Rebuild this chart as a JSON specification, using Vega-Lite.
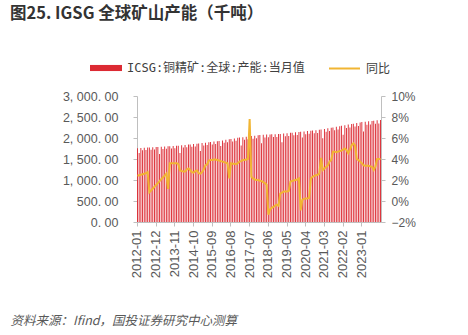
{
  "$schema": "https://vega.github.io/schema/vega-lite/v6.json",
  "width": 244,
  "height": 126,
  "autosize": "none",
  "padding": {"left": 137, "top": 96, "right": 87, "bottom": 113},
  "background": "white",
  "config": {"view": {"stroke": null}, "font": "Noto Sans CJK SC"},
  "title": {
    "text": "图25. IGSG 全球矿山产能（千吨）",
    "anchor": "start",
    "frame": "group",
    "dx": -127,
    "offset": 30,
    "fontSize": 16.5,
    "fontWeight": "bold",
    "color": "#333333",
    "font": "Noto Sans CJK SC"
  },
  "data": {
    "values": [
      {"month": "2012-01", "capacity": 1755.0, "yoy": 2.4},
      {"month": "2012-02", "capacity": 1644.4, "yoy": 2.45},
      {"month": "2012-03", "capacity": 1760.5, "yoy": 2.5},
      {"month": "2012-04", "capacity": 1706.3, "yoy": 2.55},
      {"month": "2012-05", "capacity": 1766.0, "yoy": 2.6},
      {"month": "2012-06", "capacity": 1711.6, "yoy": 2.65},
      {"month": "2012-07", "capacity": 1771.5, "yoy": 2.75},
      {"month": "2012-08", "capacity": 1774.3, "yoy": 0.83},
      {"month": "2012-09", "capacity": 1719.6, "yoy": 1.0},
      {"month": "2012-10", "capacity": 1779.8, "yoy": 1.18},
      {"month": "2012-11", "capacity": 1724.9, "yoy": 1.36},
      {"month": "2012-12", "capacity": 1785.3, "yoy": 1.53},
      {"month": "2013-01", "capacity": 1788.0, "yoy": 1.71},
      {"month": "2013-02", "capacity": 1617.2, "yoy": 1.89},
      {"month": "2013-03", "capacity": 1793.0, "yoy": 2.07},
      {"month": "2013-04", "capacity": 1737.5, "yoy": 2.25},
      {"month": "2013-05", "capacity": 1798.0, "yoy": 2.42},
      {"month": "2013-06", "capacity": 1742.3, "yoy": 2.6},
      {"month": "2013-07", "capacity": 1803.0, "yoy": 1.15},
      {"month": "2013-08", "capacity": 1805.5, "yoy": 3.6},
      {"month": "2013-09", "capacity": 1749.6, "yoy": 3.6},
      {"month": "2013-10", "capacity": 1810.5, "yoy": 3.6},
      {"month": "2013-11", "capacity": 1754.4, "yoy": 3.6},
      {"month": "2013-12", "capacity": 1815.5, "yoy": 3.6},
      {"month": "2014-01", "capacity": 1818.0, "yoy": 3.55},
      {"month": "2014-02", "capacity": 1645.8, "yoy": 2.9},
      {"month": "2014-03", "capacity": 1826.3, "yoy": 2.85},
      {"month": "2014-04", "capacity": 1771.4, "yoy": 2.8},
      {"month": "2014-05", "capacity": 1834.7, "yoy": 2.8},
      {"month": "2014-06", "capacity": 1779.5, "yoy": 3.0},
      {"month": "2014-07", "capacity": 1843.0, "yoy": 3.1},
      {"month": "2014-08", "capacity": 1847.2, "yoy": 2.95},
      {"month": "2014-09", "capacity": 1791.6, "yoy": 2.75},
      {"month": "2014-10", "capacity": 1855.5, "yoy": 2.7},
      {"month": "2014-11", "capacity": 1799.6, "yoy": 2.85},
      {"month": "2014-12", "capacity": 1863.9, "yoy": 2.9},
      {"month": "2015-01", "capacity": 1868.0, "yoy": 2.65},
      {"month": "2015-02", "capacity": 1691.9, "yoy": 2.6},
      {"month": "2015-03", "capacity": 1878.3, "yoy": 2.75},
      {"month": "2015-04", "capacity": 1822.7, "yoy": 3.0},
      {"month": "2015-05", "capacity": 1888.7, "yoy": 3.4},
      {"month": "2015-06", "capacity": 1832.7, "yoy": 3.5},
      {"month": "2015-07", "capacity": 1899.0, "yoy": 3.85},
      {"month": "2015-08", "capacity": 1904.2, "yoy": 3.9},
      {"month": "2015-09", "capacity": 1847.7, "yoy": 3.9},
      {"month": "2015-10", "capacity": 1914.5, "yoy": 3.95},
      {"month": "2015-11", "capacity": 1857.7, "yoy": 3.95},
      {"month": "2015-12", "capacity": 1924.9, "yoy": 3.9},
      {"month": "2016-01", "capacity": 1930.0, "yoy": 3.85},
      {"month": "2016-02", "capacity": 1811.8, "yoy": 3.8},
      {"month": "2016-03", "capacity": 1943.3, "yoy": 3.75},
      {"month": "2016-04", "capacity": 1887.0, "yoy": 3.7},
      {"month": "2016-05", "capacity": 1956.7, "yoy": 3.65},
      {"month": "2016-06", "capacity": 1900.0, "yoy": 3.6},
      {"month": "2016-07", "capacity": 1970.0, "yoy": 2.15},
      {"month": "2016-08", "capacity": 1976.7, "yoy": 3.6},
      {"month": "2016-09", "capacity": 1919.3, "yoy": 3.55},
      {"month": "2016-10", "capacity": 1990.0, "yoy": 3.55},
      {"month": "2016-11", "capacity": 1932.2, "yoy": 3.5},
      {"month": "2016-12", "capacity": 2003.4, "yoy": 3.6},
      {"month": "2017-01", "capacity": 2010.0, "yoy": 3.75},
      {"month": "2017-02", "capacity": 1820.1, "yoy": 3.8},
      {"month": "2017-03", "capacity": 2020.3, "yoy": 3.9},
      {"month": "2017-04", "capacity": 1960.1, "yoy": 3.9},
      {"month": "2017-05", "capacity": 2030.7, "yoy": 3.95},
      {"month": "2017-06", "capacity": 1970.1, "yoy": 4.0},
      {"month": "2017-07", "capacity": 2041.0, "yoy": 7.8},
      {"month": "2017-08", "capacity": 2046.2, "yoy": 2.3},
      {"month": "2017-09", "capacity": 1985.1, "yoy": 2.15},
      {"month": "2017-10", "capacity": 2056.5, "yoy": 2.05},
      {"month": "2017-11", "capacity": 1995.1, "yoy": 2.0},
      {"month": "2017-12", "capacity": 2066.9, "yoy": 2.0},
      {"month": "2018-01", "capacity": 2072.0, "yoy": 1.93},
      {"month": "2018-02", "capacity": 1873.4, "yoy": 1.9},
      {"month": "2018-03", "capacity": 2076.3, "yoy": 1.8},
      {"month": "2018-04", "capacity": 2011.4, "yoy": 1.7},
      {"month": "2018-05", "capacity": 2080.7, "yoy": 1.55},
      {"month": "2018-06", "capacity": 2015.6, "yoy": -1.3},
      {"month": "2018-07", "capacity": 2085.0, "yoy": -0.8},
      {"month": "2018-08", "capacity": 2087.2, "yoy": -0.65},
      {"month": "2018-09", "capacity": 2021.9, "yoy": -0.55},
      {"month": "2018-10", "capacity": 2091.5, "yoy": -0.45},
      {"month": "2018-11", "capacity": 2026.1, "yoy": -0.35},
      {"month": "2018-12", "capacity": 2095.9, "yoy": -0.45},
      {"month": "2019-01", "capacity": 2098.0, "yoy": 0.7},
      {"month": "2019-02", "capacity": 1898.7, "yoy": 0.8},
      {"month": "2019-03", "capacity": 2106.3, "yoy": 0.9},
      {"month": "2019-04", "capacity": 2042.3, "yoy": 0.9},
      {"month": "2019-05", "capacity": 2114.7, "yoy": 0.9},
      {"month": "2019-06", "capacity": 2050.5, "yoy": 0.95},
      {"month": "2019-07", "capacity": 2123.0, "yoy": 1.85},
      {"month": "2019-08", "capacity": 2127.2, "yoy": 1.9},
      {"month": "2019-09", "capacity": 2062.6, "yoy": 1.95},
      {"month": "2019-10", "capacity": 2135.5, "yoy": 2.0},
      {"month": "2019-11", "capacity": 2070.6, "yoy": 2.05},
      {"month": "2019-12", "capacity": 2143.9, "yoy": 2.15},
      {"month": "2020-01", "capacity": 2148.0, "yoy": -0.9},
      {"month": "2020-02", "capacity": 2013.5, "yoy": 0.1},
      {"month": "2020-03", "capacity": 2156.7, "yoy": 0.2},
      {"month": "2020-04", "capacity": 2091.2, "yoy": 0.25},
      {"month": "2020-05", "capacity": 2165.3, "yoy": 0.25},
      {"month": "2020-06", "capacity": 2099.6, "yoy": 0.3},
      {"month": "2020-07", "capacity": 2174.0, "yoy": 2.15},
      {"month": "2020-08", "capacity": 2178.3, "yoy": 2.3},
      {"month": "2020-09", "capacity": 2112.1, "yoy": 2.4},
      {"month": "2020-10", "capacity": 2187.0, "yoy": 2.45},
      {"month": "2020-11", "capacity": 2120.5, "yoy": 2.5},
      {"month": "2020-12", "capacity": 2195.6, "yoy": 2.6},
      {"month": "2021-01", "capacity": 2200.0, "yoy": 4.1},
      {"month": "2021-02", "capacity": 1993.8, "yoy": 2.95},
      {"month": "2021-03", "capacity": 2215.0, "yoy": 3.1},
      {"month": "2021-04", "capacity": 2150.7, "yoy": 3.25},
      {"month": "2021-05", "capacity": 2230.0, "yoy": 3.4},
      {"month": "2021-06", "capacity": 2165.2, "yoy": 3.75},
      {"month": "2021-07", "capacity": 2245.0, "yoy": 3.9},
      {"month": "2021-08", "capacity": 2252.5, "yoy": 4.7},
      {"month": "2021-09", "capacity": 2187.0, "yoy": 4.7},
      {"month": "2021-10", "capacity": 2267.5, "yoy": 4.65},
      {"month": "2021-11", "capacity": 2201.5, "yoy": 4.7},
      {"month": "2021-12", "capacity": 2282.5, "yoy": 4.75},
      {"month": "2022-01", "capacity": 2290.0, "yoy": 4.8},
      {"month": "2022-02", "capacity": 2074.9, "yoy": 4.9},
      {"month": "2022-03", "capacity": 2304.7, "yoy": 5.0},
      {"month": "2022-04", "capacity": 2237.3, "yoy": 4.85},
      {"month": "2022-05", "capacity": 2319.3, "yoy": 4.55},
      {"month": "2022-06", "capacity": 2251.5, "yoy": 4.9},
      {"month": "2022-07", "capacity": 2334.0, "yoy": 5.3},
      {"month": "2022-08", "capacity": 2341.3, "yoy": 5.5},
      {"month": "2022-09", "capacity": 2272.7, "yoy": 5.3},
      {"month": "2022-10", "capacity": 2356.0, "yoy": 4.0},
      {"month": "2022-11", "capacity": 2287.0, "yoy": 3.9},
      {"month": "2022-12", "capacity": 2370.6, "yoy": 3.75},
      {"month": "2023-01", "capacity": 2378.0, "yoy": 3.6},
      {"month": "2023-02", "capacity": 2152.1, "yoy": 3.4},
      {"month": "2023-03", "capacity": 2387.5, "yoy": 3.35},
      {"month": "2023-04", "capacity": 2315.0, "yoy": 3.35},
      {"month": "2023-05", "capacity": 2397.0, "yoy": 3.35},
      {"month": "2023-06", "capacity": 2324.2, "yoy": 3.3},
      {"month": "2023-07", "capacity": 2406.5, "yoy": 3.25},
      {"month": "2023-08", "capacity": 2411.3, "yoy": 2.95},
      {"month": "2023-09", "capacity": 2338.0, "yoy": 3.3},
      {"month": "2023-10", "capacity": 2420.8, "yoy": 4.0},
      {"month": "2023-11", "capacity": 2347.2, "yoy": 4.0},
      {"month": "2023-12", "capacity": 2430.3, "yoy": 4.0}
    ]
  },
  "encoding": {
    "x": {
      "field": "month",
      "type": "ordinal",
      "scale": {"paddingInner": 0.45, "paddingOuter": 0},
      "axis": {
        "values": ["2012-01", "2012-12", "2013-11", "2014-10", "2015-09", "2016-08", "2017-07", "2018-06", "2019-05", "2020-04", "2021-03", "2022-02", "2023-01"],
        "labelAngle": -90,
        "labelAlign": "right",
        "labelBaseline": "middle",
        "labelFont": "Liberation Sans",
        "labelFontSize": 13,
        "labelColor": "#595959",
        "labelPadding": 4,
        "tickSize": 4,
        "tickColor": "#BFBFBF",
        "domainColor": "#BFBFBF",
        "grid": false,
        "title": "资料来源：Ifind，国投证券研究中心测算",
        "titleX": -127,
        "titleY": 102,
        "titleAlign": "left",
        "titleAnchor": null,
        "titleBaseline": "alphabetic",
        "titleFont": "Noto Sans CJK SC",
        "titleFontSize": 12.5,
        "titleFontStyle": "italic",
        "titleFontWeight": "normal",
        "titleColor": "#595959"
      }
    }
  },
  "layer": [
    {
      "mark": {"type": "bar"},
      "encoding": {
        "y": {
          "field": "capacity",
          "type": "quantitative",
          "scale": {"domain": [0, 3000]},
          "axis": {
            "values": [0, 500, 1000, 1500, 2000, 2500, 3000],
            "labelExpr": "replace(replace(format(datum.value, ',.2f'), ',', ', '), '.', '. ')",
            "title": null,
            "grid": false,
            "domainColor": "#BFBFBF",
            "tickColor": "#BFBFBF",
            "tickSize": 4,
            "labelPadding": 15,
            "labelFont": "Liberation Sans",
            "labelFontSize": 12.5,
            "labelColor": "#595959"
          }
        },
        "fill": {
          "datum": "ICSG:铜精矿:全球:产能:当月值",
          "type": "nominal",
          "scale": {"range": ["#DC2A33"]},
          "legend": {
            "orient": "none",
            "legendX": -47,
            "legendY": -44,
            "title": null,
            "symbolType": "M-1,-0.19H1V0.19H-1Z",
            "symbolSize": 1024,
            "symbolStrokeWidth": 0,
            "labelFont": "DejaVu Sans Mono, Noto Sans CJK SC",
            "labelFontSize": 12,
            "labelColor": "#404040",
            "labelOffset": 5,
            "labelLimit": 400,
            "padding": 0
          }
        }
      }
    },
    {
      "mark": {"type": "line", "strokeWidth": 2},
      "encoding": {
        "y": {
          "field": "yoy",
          "type": "quantitative",
          "scale": {"domain": [-2, 10]},
          "axis": {
            "orient": "right",
            "values": [-2, 0, 2, 4, 6, 8, 10],
            "labelExpr": "format(datum.value, 'd') + '%'",
            "title": null,
            "grid": false,
            "domainColor": "#BFBFBF",
            "tickColor": "#BFBFBF",
            "tickSize": 4,
            "labelPadding": 6,
            "labelFont": "Liberation Sans",
            "labelFontSize": 12,
            "labelColor": "#595959"
          }
        },
        "stroke": {
          "datum": "同比",
          "type": "nominal",
          "scale": {"range": ["#F1B533"]},
          "legend": {
            "orient": "none",
            "legendX": 191,
            "legendY": -44,
            "title": null,
            "symbolType": "stroke",
            "symbolSize": 961,
            "symbolStrokeWidth": 2,
            "labelFont": "DejaVu Sans Mono, Noto Sans CJK SC",
            "labelFontSize": 12,
            "labelColor": "#404040",
            "labelOffset": 5,
            "labelLimit": 200,
            "padding": 0
          }
        }
      }
    }
  ],
  "resolve": {"scale": {"y": "independent"}}
}
